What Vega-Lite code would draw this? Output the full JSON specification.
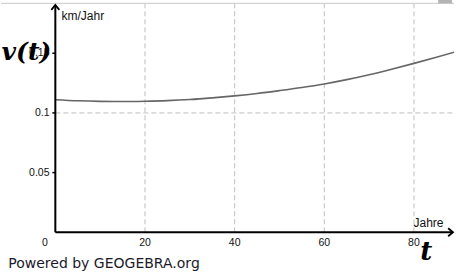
{
  "$schema": "https://vega.github.io/schema/vega-lite/v6.json",
  "width": 457,
  "height": 273,
  "autosize": {"type": "fit", "contains": "padding"},
  "padding": 0,
  "background": "white",
  "config": {"view": {"stroke": null}},
  "datasets": {
    "curve": [
      {"t": 0, "v": 0.1111}, {"t": 5, "v": 0.1102}, {"t": 10, "v": 0.1097}, {"t": 15, "v": 0.10955},
      {"t": 20, "v": 0.1098}, {"t": 25, "v": 0.1103}, {"t": 30, "v": 0.1112}, {"t": 35, "v": 0.1126},
      {"t": 40, "v": 0.1143}, {"t": 45, "v": 0.1163}, {"t": 50, "v": 0.1187}, {"t": 55, "v": 0.1213},
      {"t": 60, "v": 0.1243}, {"t": 65, "v": 0.1279}, {"t": 70, "v": 0.1320}, {"t": 75, "v": 0.1366},
      {"t": 80, "v": 0.1415}, {"t": 85, "v": 0.1466}, {"t": 90, "v": 0.1520}
    ],
    "vgrid": [
      {"t": 20, "v": 0, "v2": 0.1918}, {"t": 40, "v": 0, "v2": 0.1918},
      {"t": 60, "v": 0, "v2": 0.1918}, {"t": 80, "v": 0, "v2": 0.1918}
    ],
    "hgrid": [{"t": 0, "t2": 88.93, "v": 0.1}],
    "border": [{"t": -12.12, "t2": 88.93, "v": 0.1918}],
    "yaxis": [{"t": 0, "v": 0, "v2": 0.1904}],
    "xaxis": [{"t": 0, "t2": 88.7, "v": 0}],
    "yticks": [
      {"t": -0.66, "t2": 0, "v": 0.05}, {"t": -0.66, "t2": 0, "v": 0.1}, {"t": -0.66, "t2": 0, "v": 0.15}
    ],
    "xlabels": [
      {"t": -2.32, "v": -0.0115, "label": "0"}, {"t": 20, "v": -0.0115, "label": "20"},
      {"t": 40, "v": -0.0115, "label": "40"}, {"t": 60, "v": -0.0115, "label": "60"},
      {"t": 80, "v": -0.0115, "label": "80"}
    ],
    "ylabels": [
      {"t": -1.3, "v": 0.05, "label": "0.05"}, {"t": -1.3, "v": 0.1, "label": "0.1"},
      {"t": -1.3, "v": 0.15, "label": "0.15"}
    ],
    "yarrow": [{"t": 0, "v": 0.1904}],
    "xarrow": [{"t": 88.7, "v": 0}],
    "frame": [{"t": 85.4, "t2": 88.5, "v": 0.1918, "v2": 0.1946}],
    "unitlabel": [{"t": 1.37, "v": 0.1778, "label": "km/Jahr"}, {"t": 79.9, "v": 0.0047, "label": "Jahre"}],
    "bigv": [{"t": -12.0, "v": 0.1443, "label": "v(t)"}],
    "bigt": [{"t": 81.4, "v": -0.0232, "label": "t"}],
    "credit": [{"t": -10.5, "v": -0.0299, "label": "Powered by GEOGEBRA.org"}]
  },
  "layer": [
    {
      "data": {"name": "vgrid"},
      "mark": {"type": "rule", "stroke": "#c0c0c0", "strokeWidth": 1, "strokeDash": [5, 3]},
      "encoding": {
        "x": {"field": "t", "type": "quantitative", "scale": {"domain": [-12.12, 88.93], "nice": false, "zero": false}, "axis": null},
        "y": {"field": "v", "type": "quantitative", "scale": {"domain": [-0.0341, 0.1946], "nice": false, "zero": false}, "axis": null},
        "y2": {"field": "v2"}
      }
    },
    {
      "data": {"name": "hgrid"},
      "mark": {"type": "rule", "stroke": "#c0c0c0", "strokeWidth": 1, "strokeDash": [5, 3]},
      "encoding": {
        "x": {"field": "t", "type": "quantitative", "axis": null},
        "x2": {"field": "t2"},
        "y": {"field": "v", "type": "quantitative", "axis": null}
      }
    },
    {
      "data": {"name": "border"},
      "mark": {"type": "rule", "stroke": "#c8c8c8", "strokeWidth": 1},
      "encoding": {
        "x": {"field": "t", "type": "quantitative", "axis": null},
        "x2": {"field": "t2"},
        "y": {"field": "v", "type": "quantitative", "axis": null}
      }
    },
    {
      "data": {"name": "frame"},
      "mark": {"type": "rect", "fill": "#b4b4b4"},
      "encoding": {
        "x": {"field": "t", "type": "quantitative", "axis": null}, "x2": {"field": "t2"},
        "y": {"field": "v", "type": "quantitative", "axis": null}, "y2": {"field": "v2"}
      }
    },
    {
      "data": {"name": "curve"},
      "mark": {"type": "line", "stroke": "#666666", "strokeWidth": 1.6, "interpolate": "monotone", "clip": true},
      "encoding": {
        "x": {"field": "t", "type": "quantitative", "axis": null},
        "y": {"field": "v", "type": "quantitative", "axis": null}
      }
    },
    {
      "data": {"name": "yaxis"},
      "mark": {"type": "rule", "stroke": "black", "strokeWidth": 2},
      "encoding": {
        "x": {"field": "t", "type": "quantitative", "axis": null},
        "y": {"field": "v", "type": "quantitative", "axis": null},
        "y2": {"field": "v2"}
      }
    },
    {
      "data": {"name": "xaxis"},
      "mark": {"type": "rule", "stroke": "black", "strokeWidth": 2},
      "encoding": {
        "x": {"field": "t", "type": "quantitative", "axis": null},
        "x2": {"field": "t2"},
        "y": {"field": "v", "type": "quantitative", "axis": null}
      }
    },
    {
      "data": {"name": "yticks"},
      "mark": {"type": "rule", "stroke": "black", "strokeWidth": 1.5},
      "encoding": {
        "x": {"field": "t", "type": "quantitative", "axis": null},
        "x2": {"field": "t2"},
        "y": {"field": "v", "type": "quantitative", "axis": null}
      }
    },
    {
      "data": {"name": "yarrow"},
      "mark": {"type": "point", "shape": "M-1,1.2L0,0L1,1.2", "filled": false, "stroke": "black", "strokeWidth": 1.8, "size": 64, "opacity": 1},
      "encoding": {
        "x": {"field": "t", "type": "quantitative", "axis": null},
        "y": {"field": "v", "type": "quantitative", "axis": null}
      }
    },
    {
      "data": {"name": "xarrow"},
      "mark": {"type": "point", "shape": "M-1.2,-1L0,0L-1.2,1", "filled": false, "stroke": "black", "strokeWidth": 1.8, "size": 64, "opacity": 1},
      "encoding": {
        "x": {"field": "t", "type": "quantitative", "axis": null},
        "y": {"field": "v", "type": "quantitative", "axis": null}
      }
    },
    {
      "data": {"name": "xlabels"},
      "mark": {"type": "text", "font": "Liberation Sans", "fontSize": 10.5, "fill": "#111", "align": "center", "baseline": "alphabetic"},
      "encoding": {
        "x": {"field": "t", "type": "quantitative", "axis": null},
        "y": {"field": "v", "type": "quantitative", "axis": null},
        "text": {"field": "label"}
      }
    },
    {
      "data": {"name": "ylabels"},
      "mark": {"type": "text", "font": "Liberation Sans", "fontSize": 10.5, "fill": "#111", "align": "right", "baseline": "middle"},
      "encoding": {
        "x": {"field": "t", "type": "quantitative", "axis": null},
        "y": {"field": "v", "type": "quantitative", "axis": null},
        "text": {"field": "label"}
      }
    },
    {
      "data": {"name": "unitlabel"},
      "mark": {"type": "text", "font": "Liberation Sans", "fontSize": 12, "fill": "#111", "align": "left", "baseline": "alphabetic"},
      "encoding": {
        "x": {"field": "t", "type": "quantitative", "axis": null},
        "y": {"field": "v", "type": "quantitative", "axis": null},
        "text": {"field": "label"}
      }
    },
    {
      "data": {"name": "bigv"},
      "mark": {"type": "text", "font": "DejaVu Serif", "fontSize": 25, "fontStyle": "italic", "fontWeight": "bold", "fill": "black", "align": "left", "baseline": "alphabetic"},
      "encoding": {
        "x": {"field": "t", "type": "quantitative", "axis": null},
        "y": {"field": "v", "type": "quantitative", "axis": null},
        "text": {"field": "label"}
      }
    },
    {
      "data": {"name": "bigt"},
      "mark": {"type": "text", "font": "DejaVu Serif", "fontSize": 26, "fontStyle": "italic", "fontWeight": "bold", "fill": "black", "align": "left", "baseline": "alphabetic"},
      "encoding": {
        "x": {"field": "t", "type": "quantitative", "axis": null},
        "y": {"field": "v", "type": "quantitative", "axis": null},
        "text": {"field": "label"}
      }
    },
    {
      "data": {"name": "credit"},
      "mark": {"type": "text", "font": "DejaVu Sans", "fontSize": 14, "fill": "#1a1a2a", "align": "left", "baseline": "alphabetic"},
      "encoding": {
        "x": {"field": "t", "type": "quantitative", "axis": null},
        "y": {"field": "v", "type": "quantitative", "axis": null},
        "text": {"field": "label"}
      }
    }
  ]
}
